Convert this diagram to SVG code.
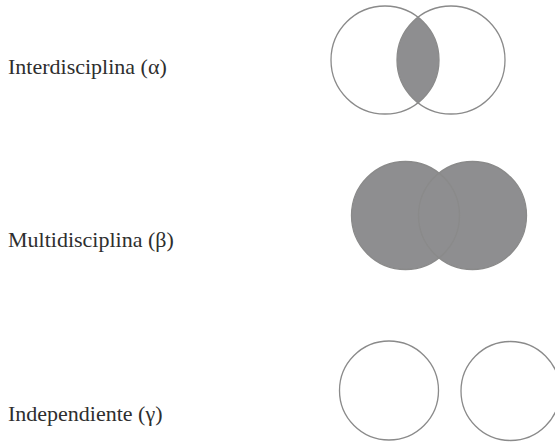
<svg xmlns="http://www.w3.org/2000/svg" width="555" height="442" viewBox="0 0 555 442">
<style>
.lbl{font-family:"Liberation Serif","Times New Roman",serif;font-size:22px;fill:#2e2e2e}
.ring{fill:none;stroke:#8a8a8a;stroke-width:1.3}
.shade{fill:#8e8e90}
</style>
<defs>
<clipPath id="clipA"><circle cx="385" cy="60" r="54"/></clipPath>
</defs>
<rect width="555" height="442" fill="#ffffff"/>
<g id="interdisciplina">
<text class="lbl" x="8" y="74">Interdisciplina (α)</text>
<circle class="shade" cx="451" cy="60" r="54" clip-path="url(#clipA)"/>
<circle class="ring" cx="385" cy="60" r="54"/>
<circle class="ring" cx="451" cy="60" r="54"/>
</g>
<g id="multidisciplina">
<text class="lbl" x="8" y="247">Multidisciplina (β)</text>
<circle class="shade" cx="405.5" cy="215.5" r="54"/>
<circle class="shade" cx="472.5" cy="215.5" r="54"/>
<circle class="ring" cx="405.5" cy="215.5" r="54" stroke="#777"/>
<circle class="ring" cx="472.5" cy="215.5" r="54" stroke="#777"/>
</g>
<g id="independiente">
<text class="lbl" x="8" y="421">Independiente (γ)</text>
<circle class="ring" cx="389" cy="390.5" r="49.5"/>
<circle class="ring" cx="510.5" cy="391" r="49.5"/>
</g>
</svg>
